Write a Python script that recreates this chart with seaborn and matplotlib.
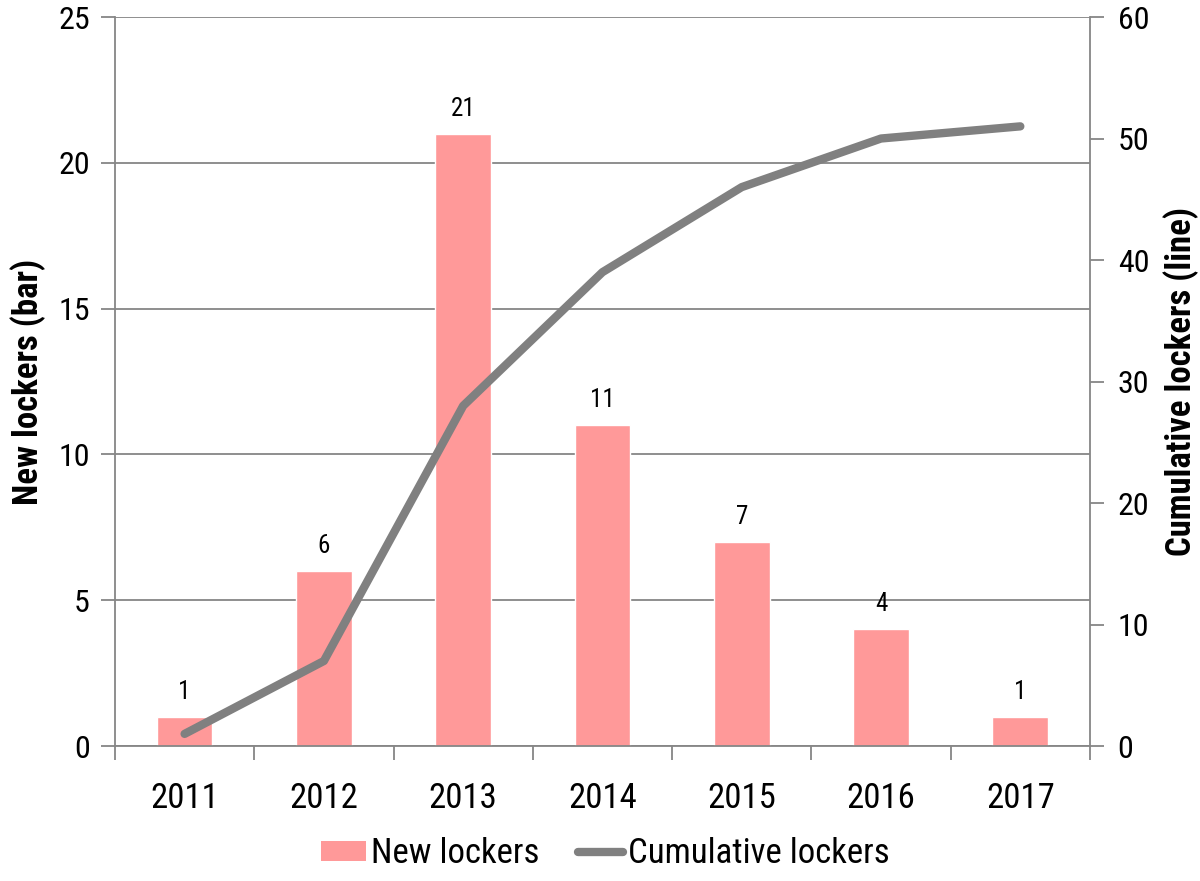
import matplotlib
matplotlib.use("Agg")
import matplotlib.pyplot as plt
import seaborn as sns
import pandas as pd
import numpy as np
from matplotlib.lines import Line2D
from matplotlib.patches import Patch

years = ["2011", "2012", "2013", "2014", "2015", "2016", "2017"]
new_lockers = [1, 6, 21, 11, 7, 4, 1]
cumulative = [1, 7, 28, 39, 46, 50, 51]

sns.set_theme(style="white")
plt.rcParams['font.family'] = ['Roboto Condensed', 'Liberation Sans Narrow',
                               'DejaVu Sans Condensed', 'Liberation Sans', 'DejaVu Sans']
plt.rcParams['text.color'] = 'black'
plt.rcParams['axes.labelcolor'] = 'black'
plt.rcParams['xtick.color'] = 'black'
plt.rcParams['ytick.color'] = 'black'

df = pd.DataFrame({"year": years, "new": new_lockers, "cum": cumulative})

fig = plt.figure(figsize=(12, 8.81), dpi=100)
ax = fig.add_axes([0.0958, 0.1532, 0.8125, 0.8275])
gray = "#868686"
bar_color = "#FF9999"
line_color = "#808080"

sns.barplot(data=df, x="year", y="new", color=bar_color, width=0.4, ax=ax,
            saturation=1, zorder=2)
ax.set_ylim(0, 25)
ax.set_yticks(np.arange(0, 26, 5))
ax.set_xlim(-0.5, 6.5)
ax.yaxis.grid(True, color=gray, linewidth=1.3, zorder=0)
ax.set_axisbelow(True)
for s in ["left", "right", "bottom"]:
    ax.spines[s].set_color(gray)
    ax.spines[s].set_linewidth(1.3)
ax.spines["top"].set_visible(False)
ax.tick_params(axis="y", left=True, length=10, width=1.3, color=gray,
               labelcolor="black", labelsize=23, pad=8)
ax.set_xticks(range(7))
ax.set_xticklabels(years)
ax.tick_params(axis="x", bottom=False, labelsize=25, pad=20, labelcolor="black")
ax.set_xticks(np.arange(-0.5, 7, 1), minor=True)
ax.tick_params(axis="x", which="minor", bottom=True, length=10, width=1.3, color=gray)
ax.set_xlabel("")
ax.set_ylabel("New lockers (bar)", fontsize=25, fontweight="bold", labelpad=9)

for i, v in enumerate(new_lockers):
    ax.text(i, v + 0.45, str(v), ha="center", va="bottom", fontsize=18)

ax2 = ax.twinx()
sns.lineplot(x=list(range(7)), y=cumulative, ax=ax2, color=line_color,
             linewidth=6, solid_capstyle="round", zorder=3)
ax2.set_ylim(0, 60)
ax2.set_yticks(np.arange(0, 61, 10))
for s in ["left", "right", "bottom", "top"]:
    ax2.spines[s].set_visible(False)
ax2.tick_params(axis="y", right=True, length=10, width=1.3, color=gray,
                labelcolor="black", labelsize=23, pad=10)
ax2.set_ylabel("Cumulative lockers (line)", fontsize=25, fontweight="bold",
               labelpad=10)
ax2.grid(False)

handles = [Patch(facecolor=bar_color, edgecolor="none"),
           Line2D([0], [0], color=line_color, linewidth=6, solid_capstyle="round")]
fig.legend(handles, ["New lockers", "Cumulative lockers"], loc="center",
           bbox_to_anchor=(0.5046, 0.031), ncol=2, frameon=False, fontsize=25,
           handlelength=1.3, handleheight=0.5, handletextpad=0.15,
           columnspacing=1.1)

fig.savefig("out.png", dpi=100)
